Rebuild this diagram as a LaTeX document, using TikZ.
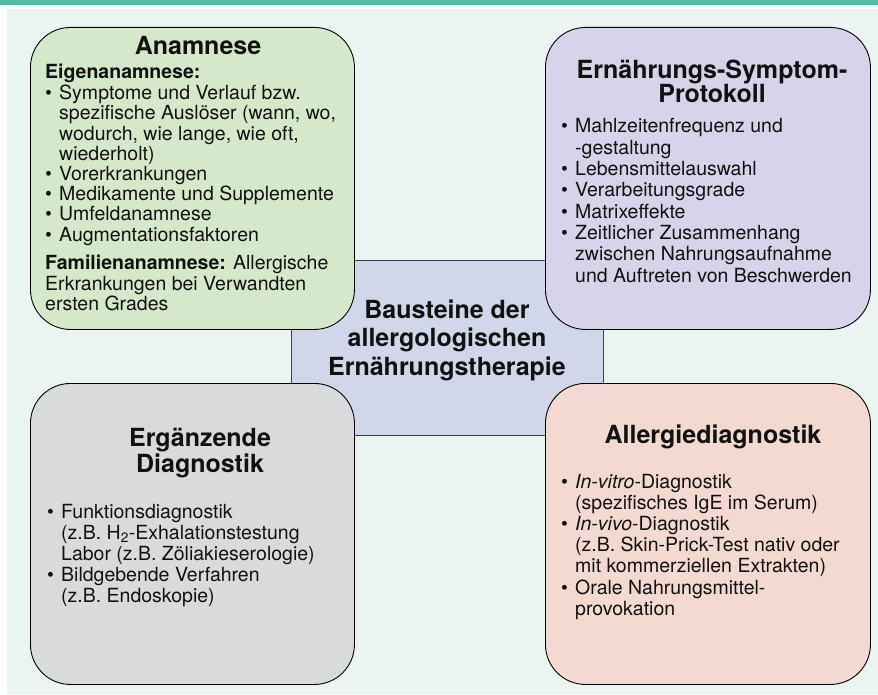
\documentclass[tikz,border=0pt]{standalone}
\usepackage{fontspec}
\setmainfont{TeX Gyre Heros}
\definecolor{tealbar}{HTML}{56B7A1}
\definecolor{mint}{HTML}{EBF4F1}
\definecolor{panelgreen}{HTML}{D6E8CB}
\definecolor{panelpurple}{HTML}{D7D3E8}
\definecolor{panelblue}{HTML}{D1D7E9}
\definecolor{panelgray}{HTML}{D9DADC}
\definecolor{panelpink}{HTML}{F2D9D1}
\definecolor{ink}{HTML}{111111}
\newcommand\bulx{\makebox[14pt][l]{\textbullet}}
\newcommand\indx{\hspace*{14pt}}
\begin{document}
\begin{tikzpicture}[x=1pt,y=-1pt,
  panel/.style={draw=black, line width=0.9pt, rounded corners=40pt, anchor=north west, inner sep=0pt},
  body/.style={font=\fontsize{19.5}{#1}\selectfont, align=left, inner sep=0pt, anchor=base west, text=ink},
  ttl/.style={font=\bfseries\fontsize{25}{#1}\selectfont, align=center, inner sep=0pt, anchor=base, text=ink}]
\useasboundingbox (0,0) rectangle (878,695);
\fill[white] (0,0) rectangle (878,695);
\fill[tealbar] (0,0) rectangle (878,5);
\fill[mint] (7,9) rectangle (878,694);

% centre box
\node[draw=black!75, line width=0.9pt, fill=panelblue, anchor=north west, inner sep=0pt,
      minimum width=312pt, minimum height=175pt] (centre) at (291,260) {};

% corner panels
\node[panel, fill=panelgreen, minimum width=324pt, minimum height=302pt] (anam) at (30,27) {};
\node[panel, fill=panelpurple, minimum width=325pt, minimum height=302pt] (prot) at (545,27) {};
\node[panel, fill=panelgray, minimum width=324pt, minimum height=301pt] (ergz) at (30,383) {};
\node[panel, fill=panelpink, minimum width=325pt, minimum height=301pt] (allg) at (545,383) {};

% centre title (anchor = baseline of last line)
\node[ttl=28.5] (centreT) at (447,375) {Bausteine der\\allergologischen\\Ernährungstherapie};

% Anamnese
\node[ttl=21.5] (anamT) at (198,55) {Anamnese};
\node[body=20.2] (anamB) at (45,310.2) {\textbf{Eigenanamnese:}\\[1.5pt]
\bulx Symptome und Verlauf bzw.\\
\indx spezifische Auslöser (wann, wo,\\
\indx wodurch, wie lange, wie oft,\\
\indx wiederholt)\\
\bulx Vorerkrankungen\\
\bulx Medikamente und Supplemente\\
\bulx Umfeldanamnese\\
\bulx Augmentationsfaktoren\\[8.5pt]
\textbf{Familienanamnese:} Allergische\\
Erkrankungen bei Verwandten\\
ersten Grades};

% Protokoll
\node[ttl=21] (protT) at (712,103) {Ernährungs-Symptom-\\Protokoll};
\node[body=21.3] (protB) at (561,282) {\bulx Mahlzeitenfrequenz und\\
\indx -gestaltung\\
\bulx Lebensmittelauswahl\\
\bulx Verarbeitungsgrade\\
\bulx Matrixeffekte\\
\bulx Zeitlicher Zusammenhang\\
\indx zwischen Nahrungsaufnahme\\
\indx und Auftreten von Beschwerden};

% Ergaenzende Diagnostik
\node[ttl=22] (ergzT) at (200,472) {Ergänzende\\Diagnostik};
\node[body=21] (ergzB) at (47,602) {\bulx Funktionsdiagnostik\\
\indx (z.B. H\textsubscript{2}-Exhalationstestung\\
\indx Labor (z.B. Zöliakieserologie)\\
\bulx Bildgebende Verfahren\\
\indx (z.B. Endoskopie)};

% Allergiediagnostik
\node[ttl=21] (allgT) at (713,443) {Allergiediagnostik};
\node[body=21.2] (allgB) at (561,615.2) {\bulx \textit{In-vitro}-Diagnostik\\
\indx (spezifisches IgE im Serum)\\
\bulx \textit{In-vivo}-Diagnostik\\
\indx (z.B. Skin-Prick-Test nativ oder\\
\indx mit kommerziellen Extrakten)\\
\bulx Orale Nahrungsmittel-\\
\indx provokation};
\end{tikzpicture}
\end{document}
